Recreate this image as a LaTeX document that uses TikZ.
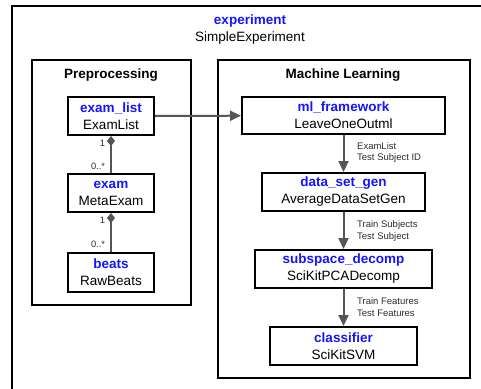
\documentclass[tikz,border=0pt]{standalone}
\usepackage{fontspec}
\setmainfont{Liberation Sans}
\usetikzlibrary{arrows.meta}

\definecolor{namecol}{RGB}{20,20,255}
\definecolor{linkgray}{RGB}{85,85,85}
\definecolor{textgray}{RGB}{45,45,45}

% name (blue, bold) over class name
\newcommand{\compname}[2]{{\color{namecol}\bfseries #1}\\#2}

\begin{document}
\begin{tikzpicture}[x=1pt, y=-1pt,
    comp/.style={draw, line width=2pt, align=center, inner sep=0pt,
      font=\fontsize{13.5}{17}\selectfont},
    group/.style={draw, line width=2.2pt, inner sep=0pt},
    heading/.style={font=\fontsize{13.5}{16}\selectfont\bfseries},
    flow/.style={draw=linkgray, line width=2pt, -{Triangle[length=11pt,width=10pt]}},
    owns/.style={draw=linkgray, line width=2pt, {Diamond[length=10pt,width=8pt]}-},
    mult/.style={font=\fontsize{9.3}{10}\selectfont, text=textgray, inner sep=1pt, left, xshift=-4pt},
    datalbl/.style={font=\fontsize{9.5}{11.5}\selectfont, text=textgray, align=left,
      anchor=west, inner sep=0pt}]

    \useasboundingbox (0,0) rectangle (481,388);
    \clip (0,0) rectangle (481,388);

    % Outer experiment box
    \draw[line width=2pt] (12,6) rectangle (495,400);
    \node[comp, draw=none] (experiment) at (250,30) {\compname{experiment}{SimpleExperiment}};

    % Preprocessing group
    \node[group, minimum width=159pt, minimum height=245pt] (prep) at (111.5,182.5) {};
    \node[heading] (preptitle) at (111,75) {Preprocessing};

    % Machine Learning group
    \node[group, minimum width=252pt, minimum height=318pt] (ml) at (344,219) {};
    \node[heading] (mltitle) at (343,75) {Machine Learning};

    % Preprocessing components
    \node[comp, minimum width=86pt, minimum height=38pt] (examlist) at (111,116) {\compname{exam\_list}{ExamList}};
    \node[comp, minimum width=86pt, minimum height=38pt] (exam) at (111,193) {\compname{exam}{MetaExam}};
    \node[comp, minimum width=86pt, minimum height=39pt] (beats) at (111,272) {\compname{beats}{RawBeats}};

    % Machine Learning components
    \node[comp, minimum width=203pt, minimum height=37pt] (mlframework) at (343.5,115.5) {\compname{ml\_framework}{LeaveOneOutml}};
    \node[comp, minimum width=163pt, minimum height=38pt] (datasetgen) at (343.5,192) {\compname{data\_set\_gen}{AverageDataSetGen}};
    \node[comp, minimum width=177pt, minimum height=38pt] (subspace) at (343.5,269) {\compname{subspace\_decomp}{SciKitPCADecomp}};
    \node[comp, minimum width=147pt, minimum height=38pt] (classifier) at (343.5,346) {\compname{classifier}{SciKitSVM}};

    % Composition links
    \draw[owns] (examlist) -- (exam)
      node[mult, pos=0.2] (one1) {1}
      node[mult, pos=0.82] (many1) {0..*};
    \draw[owns] (exam) -- (beats)
      node[mult, pos=0.2] (one2) {1}
      node[mult, pos=0.8] (many2) {0..*};

    % Data flow
    \draw[flow] (examlist) -- (mlframework);
    \draw[flow] (mlframework) -- (datasetgen);
    \draw[flow] (datasetgen) -- (subspace);
    \draw[flow] (subspace) -- (classifier);

    % Flow labels
    \node[datalbl] (lbl1) at (357,152.5) {ExamList\\Test Subject ID};
    \node[datalbl] (lbl2) at (357,231) {Train Subjects\\Test Subject};
    \node[datalbl] (lbl3) at (357,307) {Train Features\\Test Features};
\end{tikzpicture}
\end{document}
